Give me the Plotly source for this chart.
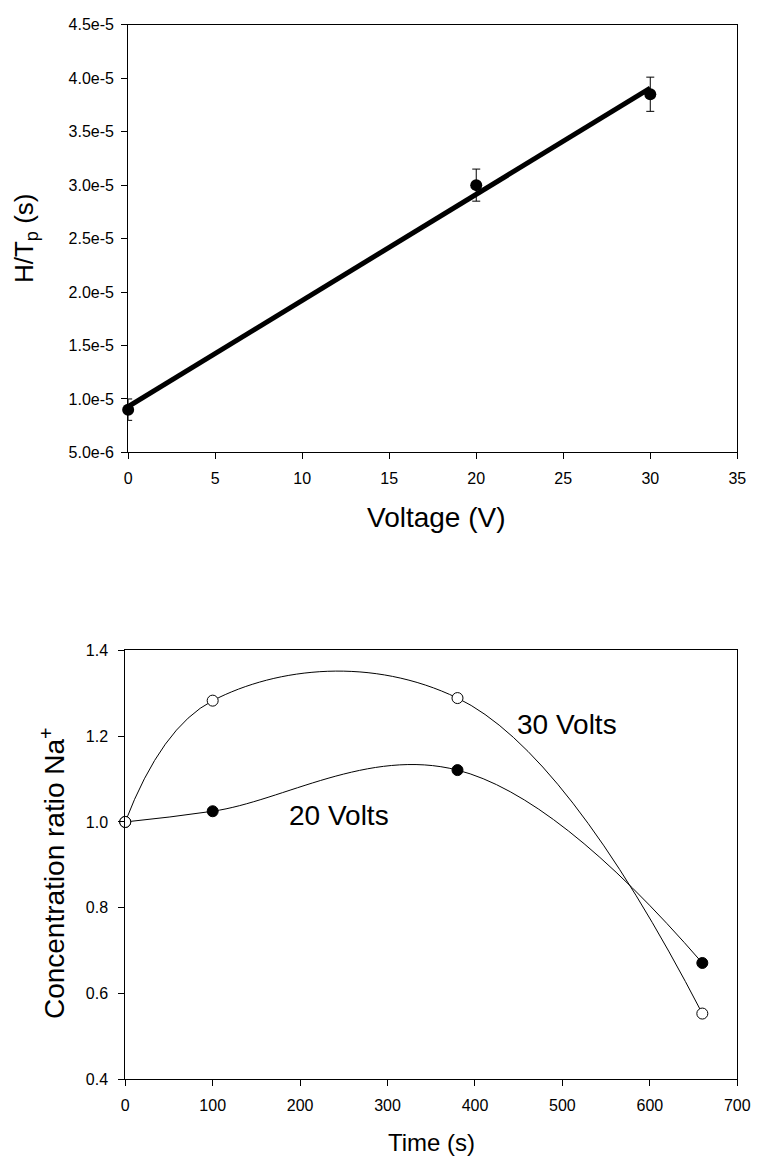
import numpy as np
import plotly.graph_objects as go

# ---------------- data ----------------
voltage = [0, 20, 30]
h_tp = [9.0e-6, 3.0e-5, 3.85e-5]
h_tp_err = [1.0e-6, 1.5e-6, 1.6e-6]

top_y_ticks = [5.0e-6, 1.0e-5, 1.5e-5, 2.0e-5, 2.5e-5, 3.0e-5, 3.5e-5, 4.0e-5, 4.5e-5]
top_y_ticktext = ["5.0e-6", "1.0e-5", "1.5e-5", "2.0e-5", "2.5e-5", "3.0e-5", "3.5e-5", "4.0e-5", "4.5e-5"]
top_x_ticks = [0, 5, 10, 15, 20, 25, 30, 35]

time_s = [0, 100, 380, 660]
ratio_20v = [1.0, 1.025, 1.121, 0.671]
ratio_30v = [1.0, 1.283, 1.289, 0.553]

bottom_x_ticks = [0, 100, 200, 300, 400, 500, 600, 700]
bottom_y_ticks = [0.4, 0.6, 0.8, 1.0, 1.2, 1.4]

# linear regression through the voltage data
slope, intercept = np.polyfit(voltage, h_tp, 1)
fit_x = [min(voltage), max(voltage)]
fit_y = [intercept + slope * v for v in fit_x]

W, H = 763, 1166
FONT = "Liberation Sans, Arial, sans-serif"

fig = go.Figure()

# ---- top panel ----
fig.add_trace(go.Scatter(
    x=fit_x, y=fit_y, mode="lines",
    line=dict(color="black", width=5),
    xaxis="x", yaxis="y", showlegend=False, cliponaxis=False))
fig.add_trace(go.Scatter(
    x=voltage, y=h_tp, mode="markers",
    marker=dict(color="black", size=12),
    error_y=dict(type="data", array=h_tp_err, visible=True,
                 color="black", thickness=1, width=4),
    xaxis="x", yaxis="y", showlegend=False, cliponaxis=False))

# ---- bottom panel ----
fig.add_trace(go.Scatter(
    x=time_s, y=ratio_20v, mode="lines+markers",
    line=dict(color="black", width=1, shape="spline", smoothing=1.15),
    marker=dict(color="black", size=11, line=dict(color="black", width=1)),
    xaxis="x2", yaxis="y2", showlegend=False, cliponaxis=False))
fig.add_trace(go.Scatter(
    x=time_s, y=ratio_30v, mode="lines+markers",
    line=dict(color="black", width=1, shape="spline", smoothing=1.15),
    marker=dict(color="white", size=11, line=dict(color="black", width=1)),
    xaxis="x2", yaxis="y2", showlegend=False, cliponaxis=False))

axis_common = dict(
    showline=True, linecolor="black", linewidth=1, mirror=True,
    ticks="outside", ticklen=6, tickcolor="black", tickwidth=1,
    showgrid=False, zeroline=False,
    tickfont=dict(family=FONT, size=16, color="black"),
)

top_x_dom = [127 / W, 750 / W]
top_y_dom = [1 - 451 / H, 1 - 17 / H]
bot_x_dom = [124 / W, 750 / W]
bot_y_dom = [1 - 1087 / H, 1 - 652 / H]

fig.update_layout(
    width=W, height=H,
    margin=dict(l=0, r=0, t=0, b=0),
    paper_bgcolor="white", plot_bgcolor="white",
    font=dict(family=FONT, color="black"),
    xaxis=dict(domain=top_x_dom, anchor="y", range=[0, 35],
               tickvals=top_x_ticks, ticklabelstandoff=5, **axis_common),
    yaxis=dict(domain=top_y_dom, anchor="x", range=[5.0e-6, 4.5e-5],
               tickvals=top_y_ticks, ticktext=top_y_ticktext,
               ticklabelstandoff=4, **axis_common),
    xaxis2=dict(domain=bot_x_dom, anchor="y2", range=[0, 700],
                tickvals=bottom_x_ticks, ticklabelstandoff=6, **axis_common),
    yaxis2=dict(domain=bot_y_dom, anchor="x2", range=[0.4, 1.4],
                tickvals=bottom_y_ticks, tickformat=".1f",
                ticklabelstandoff=7, **axis_common),
    annotations=[
        dict(text="Voltage (V)", xref="paper", yref="paper",
             x=442 / W, y=1 - 517.5 / H, showarrow=False,
             xanchor="center", yanchor="middle",
             font=dict(family=FONT, size=28, color="black")),
        dict(text="H/T<sub>p</sub> (s)", xref="paper", yref="paper",
             x=22 / W, y=1 - 234 / H, showarrow=False, textangle=-90,
             xanchor="center", yanchor="middle",
             font=dict(family=FONT, size=26, color="black")),
        dict(text="Time (s)", xref="paper", yref="paper",
             x=437 / W, y=1 - 1151.7 / H, showarrow=False,
             xanchor="center", yanchor="middle",
             font=dict(family=FONT, size=24, color="black")),
        dict(text="Concentration ratio Na<sup>+</sup>", xref="paper", yref="paper",
             x=50 / W, y=1 - 878 / H, showarrow=False, textangle=-90,
             xanchor="center", yanchor="middle",
             font=dict(family=FONT, size=28, color="black")),
        dict(text="30 Volts", xref="x2", yref="y2", x=505, y=1.228,
             showarrow=False, xanchor="center", yanchor="middle",
             font=dict(family=FONT, size=28, color="black")),
        dict(text="20 Volts", xref="x2", yref="y2", x=245, y=1.016,
             showarrow=False, xanchor="center", yanchor="middle",
             font=dict(family=FONT, size=28, color="black")),
    ],
)

fig.write_html("out.html")
